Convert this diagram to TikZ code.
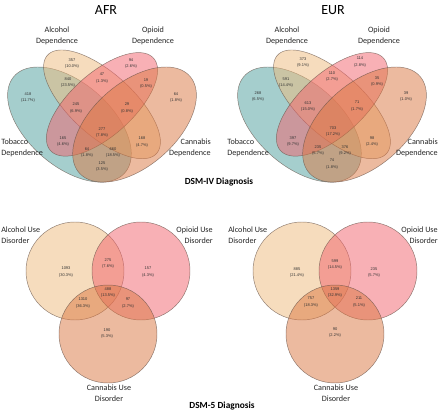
\documentclass[tikz,border=0pt]{standalone}
\usepackage{fontspec}
\setmainfont{Carlito}
\newfontfamily\numfont{Liberation Sans}
\definecolor{tobc}{RGB}{77,159,157}
\definecolor{alcc}{RGB}{239,187,125}
\definecolor{opic}{RGB}{242,98,108}
\definecolor{canc}{RGB}{219,119,65}
\definecolor{edgec}{RGB}{100,80,70}
% centre x, centre y, angle, semi-axis a, semi-axis b, colour
\newcommand\qell[6]{\filldraw[venn,fill=#6] plot[domain=0:360,samples=100,variable=\t,smooth]
  ({#1+#4*cos(\t)*cos(#3)-#5*sin(\t)*sin(#3)},{#2+#4*cos(\t)*sin(#3)+#5*sin(\t)*cos(#3)}) -- cycle;}
\begin{document}
\begin{tikzpicture}[x=0.75pt,y=-0.75pt,
  num/.style={font=\numfont\fontsize{3}{5.2}\selectfont, align=center, inner sep=0pt, text=black!80},
  lab/.style={font=\fontsize{6.1}{8.25}\selectfont, inner sep=0pt, text=black!85},
  ttl/.style={font=\fontsize{10.5}{12}\selectfont, inner sep=0pt},
  diag/.style={font=\bfseries\fontsize{7}{8}\selectfont, inner sep=0pt},
  venn/.style={fill opacity=0.5, draw=edgec, draw opacity=0.7, line width=0.35pt}]
\useasboundingbox (0,0) rectangle (440,411);
\fill[white] (0,0) rectangle (440,411);

% ---- DSM-IV four-ellipse diagrams ----
\begin{scope}[shift={(-4.875pt,-164.625pt)}, x=162.75pt, y=151.5pt]
  \qell{0.35}{0.47}{135}{0.35}{0.20}{tobc}
  \qell{0.50}{0.57}{135}{0.35}{0.15}{alcc}
  \qell{0.50}{0.57}{45}{0.33}{0.15}{opic}
  \qell{0.65}{0.47}{45}{0.35}{0.20}{canc}
\end{scope}
\begin{scope}[shift={(167.625pt,-164.625pt)}, x=162.75pt, y=151.5pt]
  \qell{0.35}{0.47}{135}{0.35}{0.20}{tobc}
  \qell{0.50}{0.57}{135}{0.35}{0.15}{alcc}
  \qell{0.50}{0.57}{45}{0.33}{0.15}{opic}
  \qell{0.65}{0.47}{45}{0.35}{0.20}{canc}
\end{scope}

% ---- DSM-5 three-circle diagrams ----
\filldraw[venn, fill=alcc] (75,271) circle[radius=36.75pt];
\filldraw[venn, fill=opic] (141,271) circle[radius=36.75pt];
\filldraw[venn, fill=canc] (108,334) circle[radius=36.75pt];
\filldraw[venn, fill=alcc] (302,271) circle[radius=36.75pt];
\filldraw[venn, fill=opic] (368,271) circle[radius=36.75pt];
\filldraw[venn, fill=canc] (335,334) circle[radius=36.75pt];

% ---- titles ----
\node[ttl] (tafr) at (106,10) {AFR};
\node[ttl] (teur) at (333,10) {EUR};
\node[diag] (d4) at (219,182) {DSM-IV Diagnosis};
\node[diag] (d5) at (222,406) {DSM-5 Diagnosis};

% ---- AFR DSM-IV labels ----
\node[lab, align=center] (la1) at (57,35.5) {Alcohol\\Dependence};
\node[lab, align=center] (la2) at (153,35.5) {Opioid\\Dependence};
\node[lab, align=left, anchor=west] (la3) at (1,148) {Tobacco\\Dependence};
\node[lab, align=right, anchor=east] (la4) at (211,148) {Cannabis\\Dependence};
% ---- EUR DSM-IV labels ----
\node[lab, align=center] (le1) at (287,35.5) {Alcohol\\Dependence};
\node[lab, align=center] (le2) at (379,35.5) {Opioid\\Dependence};
\node[lab, align=left, anchor=west] (le3) at (227,148) {Tobacco\\Dependence};
\node[lab, align=right, anchor=east] (le4) at (438,148) {Cannabis\\Dependence};

% ---- AFR DSM-IV numbers ----
\node[num] (a1) at (72,63.5) {357\\(10.0\%)};
\node[num] (a2) at (131,63.5) {94\\(2.6\%)};
\node[num] (a3) at (68,82.5) {840\\(23.5\%)};
\node[num] (a4) at (102,78.5) {47\\(1.3\%)};
\node[num] (a5) at (146,83.5) {19\\(0.5\%)};
\node[num] (a6) at (28,97.5) {418\\(11.7\%)};
\node[num] (a7) at (176,97.5) {64\\(1.8\%)};
\node[num] (a8) at (76,108) {245\\(6.9\%)};
\node[num] (a9) at (127,108) {29\\(0.8\%)};
\node[num] (a10) at (102,132.5) {277\\(7.8\%)};
\node[num] (a11) at (63,141.5) {165\\(4.6\%)};
\node[num] (a12) at (142,142) {168\\(4.7\%)};
\node[num] (a13) at (87,152.5) {64\\(1.8\%)};
\node[num] (a14) at (113,152.5) {660\\(18.5\%)};
\node[num] (a15) at (102,166.5) {125\\(3.5\%)};

% ---- EUR DSM-IV numbers ----
\node[num] (e1) at (303,62.5) {373\\(9.1\%)};
\node[num] (e2) at (360,62.5) {114\\(2.8\%)};
\node[num] (e3) at (286,82.5) {591\\(14.4\%)};
\node[num] (e4) at (332,76.5) {110\\(2.7\%)};
\node[num] (e5) at (377,81.5) {35\\(0.9\%)};
\node[num] (e6) at (258,96.5) {268\\(6.5\%)};
\node[num] (e7) at (406,96.5) {39\\(1.0\%)};
\node[num] (e8) at (308,106.5) {613\\(15.0\%)};
\node[num] (e9) at (357,106.5) {71\\(1.7\%)};
\node[num] (e10) at (333,131.5) {703\\(17.2\%)};
\node[num] (e11) at (293,141.5) {397\\(9.7\%)};
\node[num] (e12) at (372,141.5) {98\\(2.4\%)};
\node[num] (e13) at (318,150.5) {235\\(5.7\%)};
\node[num] (e14) at (345,150.5) {376\\(9.2\%)};
\node[num] (e15) at (332,164.5) {74\\(1.8\%)};

% ---- DSM-5 labels ----
\node[lab, align=left, anchor=west] (ma1) at (1,235.5) {Alcohol Use\\Disorder};
\node[lab, align=right, anchor=east] (ma2) at (213,235.5) {Opioid Use\\Disorder};
\node[lab, align=center] (ma3) at (109,393.5) {Cannabis Use\\Disorder};
\node[lab, align=left, anchor=west] (me1) at (228,235.5) {Alcohol Use\\Disorder};
\node[lab, align=right, anchor=east] (me2) at (438,235.5) {Opioid Use\\Disorder};
\node[lab, align=center] (me3) at (336,393) {Cannabis Use\\Disorder};

% ---- DSM-5 numbers ----
\node[num] (b1) at (66,272) {1093\\(30.3\%)};
\node[num] (b2) at (108,263.5) {275\\(7.6\%)};
\node[num] (b3) at (148,272) {157\\(4.3\%)};
\node[num] (b4) at (108,292.5) {488\\(13.5\%)};
\node[num] (b5) at (83,303) {1310\\(36.3\%)};
\node[num] (b6) at (128,303) {97\\(2.7\%)};
\node[num] (b7) at (107,333.5) {190\\(5.3\%)};
\node[num] (f1) at (297,272.5) {885\\(21.4\%)};
\node[num] (f2) at (335,264.5) {599\\(14.5\%)};
\node[num] (f3) at (374,272.5) {235\\(5.7\%)};
\node[num] (f4) at (335,292.5) {1359\\(32.9\%)};
\node[num] (f5) at (311,302) {757\\(18.3\%)};
\node[num] (f6) at (359,302) {211\\(5.1\%)};
\node[num] (f7) at (335,332.5) {90\\(2.2\%)};
\end{tikzpicture}
\end{document}
